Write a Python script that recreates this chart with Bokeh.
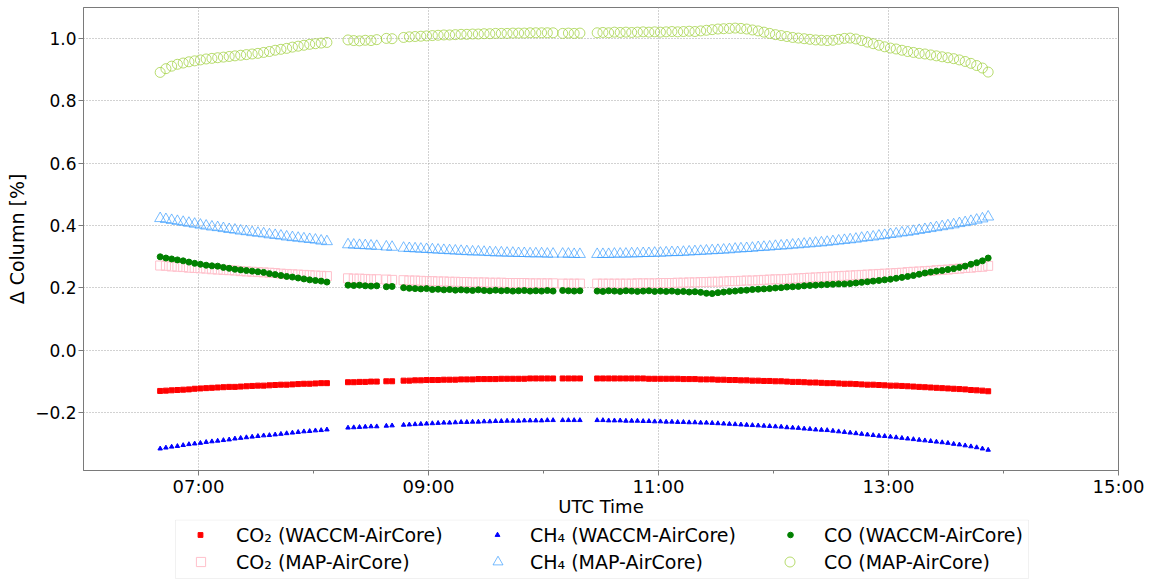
import pandas as pd
from bokeh.plotting import figure
from bokeh.layouts import column
from bokeh.models import (ColumnDataSource, FixedTicker, DatetimeTickFormatter,
                          CustomJSTickFormatter, Legend, LegendItem, Range1d,
                          BoxAnnotation)
from bokeh.embed import file_html
from bokeh.resources import INLINE

# ---------------- data ----------------
times = [
    "06:40","06:43","06:46","06:49","06:52","06:55","06:58","07:01","07:04","07:07",
    "07:10","07:13","07:16","07:19","07:22","07:25","07:28","07:31","07:34","07:37",
    "07:40","07:43","07:46","07:49","07:52","07:55","07:58","08:01","08:04","08:07",
    "08:18","08:21","08:24","08:27","08:30","08:33",
    "08:38","08:41",
    "08:47","08:50","08:53","08:56","08:59","09:02","09:05","09:08","09:11","09:14",
    "09:17","09:20","09:23","09:26","09:29","09:32","09:35","09:38","09:41","09:44",
    "09:47","09:50","09:53","09:56","09:59","10:02","10:05",
    "10:10","10:13","10:16","10:19",
    "10:28","10:31","10:34","10:37","10:40","10:43","10:46","10:49","10:52","10:55",
    "10:58","11:01","11:04","11:07","11:10","11:13","11:16","11:19","11:22","11:25",
    "11:28","11:31","11:34","11:37","11:40","11:43","11:46","11:49","11:52","11:55",
    "11:58","12:01","12:04","12:07","12:10","12:13","12:16","12:19","12:22","12:25",
    "12:28","12:31","12:34","12:37","12:40","12:43","12:46","12:49","12:52","12:55",
    "12:58","13:01","13:04","13:07","13:10","13:13","13:16","13:19","13:22","13:25",
    "13:28","13:31","13:34","13:37","13:40","13:43","13:46","13:49","13:52",
]

co2_waccm = [
    -0.130,-0.129,-0.128,-0.127,-0.126,-0.125,-0.123,-0.122,-0.121,-0.120,
    -0.119,-0.118,-0.117,-0.117,-0.116,-0.115,-0.114,-0.113,-0.113,-0.112,
    -0.111,-0.110,-0.110,-0.109,-0.108,-0.107,-0.107,-0.106,-0.105,-0.105,
    -0.102,-0.102,-0.101,-0.101,-0.100,-0.100,
    -0.099,-0.099,
    -0.097,-0.097,-0.096,-0.096,-0.095,-0.095,-0.095,-0.094,-0.094,-0.094,
    -0.093,-0.093,-0.093,-0.092,-0.092,-0.092,-0.092,-0.091,-0.091,-0.091,
    -0.091,-0.091,-0.090,-0.090,-0.090,-0.090,-0.090,
    -0.090,-0.090,-0.090,-0.090,
    -0.090,-0.090,-0.090,-0.090,-0.090,-0.090,-0.090,-0.090,-0.090,-0.091,
    -0.091,-0.091,-0.091,-0.091,-0.091,-0.092,-0.092,-0.092,-0.093,-0.093,
    -0.093,-0.094,-0.094,-0.095,-0.095,-0.096,-0.096,-0.097,-0.097,-0.098,
    -0.098,-0.099,-0.099,-0.100,-0.101,-0.101,-0.102,-0.103,-0.103,-0.104,
    -0.105,-0.105,-0.106,-0.107,-0.107,-0.108,-0.109,-0.110,-0.110,-0.111,
    -0.112,-0.113,-0.113,-0.114,-0.115,-0.116,-0.117,-0.118,-0.119,-0.120,
    -0.121,-0.122,-0.123,-0.124,-0.125,-0.127,-0.128,-0.129,-0.131,
]

co2_map = [
    0.272,0.271,0.269,0.268,0.267,0.265,0.264,0.263,0.262,0.260,
    0.259,0.258,0.257,0.256,0.254,0.253,0.252,0.251,0.250,0.249,
    0.248,0.246,0.245,0.244,0.243,0.242,0.241,0.240,0.239,0.238,
    0.231,0.230,0.230,0.229,0.228,0.228,
    0.227,0.226,
    0.225,0.224,0.224,0.223,0.222,0.222,0.221,0.221,0.220,0.220,
    0.219,0.219,0.218,0.218,0.218,0.217,0.217,0.217,0.216,0.216,
    0.216,0.216,0.215,0.215,0.215,0.215,0.215,
    0.214,0.214,0.214,0.214,
    0.214,0.214,0.214,0.214,0.214,0.214,0.214,0.215,0.215,0.215,
    0.215,0.216,0.216,0.216,0.217,0.217,0.218,0.218,0.219,0.219,
    0.220,0.220,0.221,0.222,0.222,0.223,0.224,0.224,0.225,0.226,
    0.227,0.228,0.228,0.229,0.230,0.231,0.232,0.233,0.234,0.235,
    0.236,0.237,0.238,0.239,0.240,0.241,0.242,0.243,0.244,0.245,
    0.246,0.247,0.248,0.249,0.251,0.252,0.253,0.254,0.255,0.257,
    0.258,0.259,0.261,0.262,0.264,0.265,0.267,0.268,0.271,
]

ch4_waccm = [
    -0.315,-0.312,-0.309,-0.307,-0.304,-0.301,-0.299,-0.297,-0.294,-0.292,
    -0.290,-0.288,-0.286,-0.283,-0.281,-0.279,-0.277,-0.275,-0.273,-0.272,
    -0.270,-0.268,-0.266,-0.264,-0.262,-0.260,-0.259,-0.257,-0.256,-0.254,
    -0.248,-0.247,-0.246,-0.245,-0.244,-0.244,
    -0.242,-0.241,
    -0.239,-0.238,-0.237,-0.236,-0.235,-0.234,-0.233,-0.232,-0.232,-0.231,
    -0.230,-0.230,-0.229,-0.229,-0.228,-0.228,-0.227,-0.227,-0.226,-0.226,
    -0.226,-0.225,-0.225,-0.225,-0.225,-0.224,-0.224,
    -0.224,-0.224,-0.224,-0.224,
    -0.224,-0.224,-0.225,-0.225,-0.225,-0.226,-0.226,-0.226,-0.227,-0.227,
    -0.228,-0.228,-0.229,-0.229,-0.230,-0.230,-0.231,-0.231,-0.232,-0.232,
    -0.233,-0.234,-0.235,-0.236,-0.237,-0.238,-0.239,-0.240,-0.241,-0.242,
    -0.243,-0.244,-0.245,-0.247,-0.248,-0.249,-0.251,-0.252,-0.254,-0.255,
    -0.256,-0.258,-0.260,-0.262,-0.264,-0.266,-0.268,-0.270,-0.272,-0.274,
    -0.275,-0.277,-0.279,-0.281,-0.283,-0.285,-0.287,-0.289,-0.291,-0.293,
    -0.295,-0.297,-0.300,-0.302,-0.305,-0.308,-0.311,-0.315,-0.319,
]

ch4_map = [
    0.423,0.420,0.417,0.414,0.411,0.408,0.405,0.402,0.399,0.396,
    0.394,0.391,0.388,0.386,0.383,0.381,0.378,0.376,0.374,0.371,
    0.369,0.367,0.364,0.362,0.360,0.358,0.356,0.354,0.351,0.349,
    0.339,0.338,0.337,0.336,0.335,0.334,
    0.332,0.331,
    0.328,0.327,0.326,0.325,0.324,0.323,0.322,0.321,0.320,0.319,
    0.318,0.317,0.316,0.316,0.315,0.314,0.313,0.313,0.312,0.312,
    0.311,0.311,0.310,0.310,0.310,0.309,0.309,
    0.309,0.309,0.308,0.308,
    0.308,0.308,0.308,0.309,0.309,0.309,0.310,0.310,0.311,0.311,
    0.312,0.312,0.313,0.314,0.314,0.315,0.316,0.317,0.318,0.319,
    0.320,0.321,0.322,0.323,0.325,0.326,0.327,0.328,0.330,0.331,
    0.332,0.334,0.335,0.336,0.338,0.339,0.341,0.342,0.344,0.345,
    0.347,0.349,0.351,0.353,0.355,0.357,0.360,0.362,0.364,0.367,
    0.369,0.372,0.374,0.377,0.379,0.382,0.385,0.388,0.391,0.394,
    0.397,0.400,0.403,0.407,0.410,0.414,0.418,0.422,0.428,
]

co_waccm = [
    0.300,0.296,0.293,0.290,0.287,0.283,0.279,0.276,0.273,0.271,
    0.270,0.266,0.263,0.260,0.258,0.256,0.254,0.252,0.250,0.246,
    0.243,0.240,0.237,0.235,0.232,0.229,0.226,0.224,0.222,0.219,
    0.209,0.208,0.209,0.207,0.206,0.207,
    0.204,0.205,
    0.201,0.199,0.198,0.197,0.198,0.195,0.196,0.194,0.195,0.193,
    0.194,0.193,0.192,0.194,0.192,0.191,0.193,0.191,0.192,0.190,
    0.191,0.192,0.190,0.191,0.190,0.192,0.190,
    0.192,0.191,0.190,0.191,
    0.190,0.189,0.191,0.190,0.189,0.191,0.190,0.189,0.190,0.191,
    0.189,0.190,0.189,0.190,0.188,0.189,0.187,0.188,0.186,0.183,
    0.182,0.185,0.187,0.189,0.190,0.192,0.193,0.195,0.196,0.197,
    0.198,0.200,0.201,0.203,0.204,0.205,0.207,0.208,0.209,0.210,
    0.211,0.212,0.213,0.213,0.214,0.216,0.218,0.220,0.222,0.224,
    0.226,0.228,0.231,0.234,0.237,0.240,0.244,0.248,0.251,0.254,
    0.256,0.259,0.262,0.266,0.270,0.276,0.281,0.287,0.296,
]

co_map = [
    0.891,0.903,0.911,0.917,0.921,0.925,0.928,0.931,0.934,0.936,
    0.938,0.940,0.942,0.944,0.946,0.948,0.950,0.952,0.955,0.958,
    0.962,0.965,0.968,0.972,0.975,0.978,0.981,0.983,0.985,0.987,
    0.995,0.993,0.992,0.994,0.993,0.996,
    1.000,0.999,
    1.003,1.005,1.006,1.007,1.008,1.009,1.010,1.011,1.011,1.012,
    1.013,1.013,1.014,1.014,1.015,1.015,1.016,1.016,1.016,1.017,
    1.017,1.017,1.018,1.018,1.018,1.018,1.018,
    1.016,1.017,1.016,1.017,
    1.018,1.019,1.018,1.020,1.019,1.020,1.019,1.020,1.021,1.020,
    1.021,1.020,1.021,1.022,1.021,1.022,1.023,1.022,1.024,1.026,
    1.028,1.030,1.031,1.032,1.033,1.032,1.030,1.027,1.024,1.020,
    1.016,1.012,1.009,1.006,1.003,1.001,0.999,0.997,0.995,0.994,
    0.993,0.994,0.997,1.000,1.001,0.998,0.993,0.988,0.983,0.978,
    0.973,0.969,0.966,0.962,0.958,0.955,0.952,0.950,0.947,0.944,
    0.941,0.938,0.935,0.931,0.926,0.920,0.913,0.905,0.892,
]

x_tick_labels = ["07:00", "09:00", "11:00", "13:00", "15:00"]
x_minor_labels = ["08:00", "10:00", "12:00", "14:00"]
x_limits = ["06:00", "15:00"]
y_ticks = [-0.2, 0.0, 0.2, 0.4, 0.6, 0.8, 1.0]
y_limits = [-0.385, 1.099]

labels = {
    "co2_waccm": "CO\u2082 (WACCM-AirCore)",
    "co2_map": "CO\u2082 (MAP-AirCore)",
    "ch4_waccm": "CH\u2084 (WACCM-AirCore)",
    "ch4_map": "CH\u2084 (MAP-AirCore)",
    "co_waccm": "CO (WACCM-AirCore)",
    "co_map": "CO (MAP-AirCore)",
}

# ---------------- styles ----------------
styles = {
    "co2_waccm": dict(marker="square", size=5, fill_color="#ff0000", line_color="#ff0000"),
    "co2_map": dict(marker="square", size=9, fill_color=None, line_color="#ffc0cb", line_width=1),
    "ch4_waccm": dict(marker="triangle", size=4.5, fill_color="#0000ff", line_color="#0000ff"),
    "ch4_map": dict(marker="triangle", size=11, fill_color=None, line_color="#1e90ff",
                    line_alpha=0.6, line_width=1),
    "co_waccm": dict(marker="circle", size=6, fill_color="#008000", line_color="#008000"),
    "co_map": dict(marker="circle", size=10, fill_color=None, line_color="#9acd32",
                   line_alpha=0.7, line_width=1),
}
order = ["co2_waccm", "co2_map", "ch4_waccm", "ch4_map", "co_waccm", "co_map"]

# ---------------- build ----------------
def to_dt(t):
    return pd.Timestamp("2000-01-01 " + t)

def to_ms(t):
    return to_dt(t).value // 10**6

series = dict(co2_waccm=co2_waccm, co2_map=co2_map, ch4_waccm=ch4_waccm,
              ch4_map=ch4_map, co_waccm=co_waccm, co_map=co_map)
n = min([len(times)] + [len(v) for v in series.values()])
data = {"t": [to_dt(t) for t in times[:n]]}
for k, v in series.items():
    data[k] = v[:n]
src = ColumnDataSource(data)

FONT = "DejaVu Sans"
GREY = "#7a7a7a"
FRAME_L, FRAME_R = 83, 36
p = figure(width=1154, height=519, x_axis_type="datetime",
           x_range=Range1d(to_dt(x_limits[0]), to_dt(x_limits[1])),
           y_range=Range1d(y_limits[0], y_limits[1]),
           output_backend="svg", toolbar_location=None,
           min_border_left=FRAME_L, min_border_right=FRAME_R, min_border_top=7,
           min_border_bottom=49)
p.background_fill_color = "white"
p.border_fill_color = "white"
p.outline_line_color = GREY
p.outline_line_width = 1

for k in order:
    p.scatter("t", k, source=src, **styles[k])

p.xaxis.ticker = FixedTicker(ticks=[to_ms(t) for t in x_tick_labels],
                             minor_ticks=[to_ms(t) for t in x_minor_labels])
p.xaxis.formatter = DatetimeTickFormatter(
    microseconds="%H:%M", milliseconds="%H:%M", seconds="%H:%M", minsec="%H:%M",
    minutes="%H:%M", hourmin="%H:%M", hours="%H:%M", days="%H:%M",
    months="%H:%M", years="%H:%M")
p.yaxis.ticker = FixedTicker(ticks=y_ticks, minor_ticks=[])
p.yaxis.formatter = CustomJSTickFormatter(
    code="return tick.toFixed(1).replace('-', '\\u2212');")

p.xaxis.axis_label = "UTC Time"
p.yaxis.axis_label = "\u0394 Column [%]"
for ax in (p.xaxis, p.yaxis):
    ax.major_label_text_font = FONT
    ax.major_label_text_color = "black"
    ax.axis_label_text_font = FONT
    ax.axis_label_text_font_style = "normal"
    ax.axis_label_text_color = "black"
    ax.axis_line_color = GREY
    ax.major_tick_line_color = GREY
    ax.minor_tick_line_color = GREY
    ax.major_tick_out = 5
    ax.major_tick_in = 0
    ax.minor_tick_out = 3
    ax.minor_tick_in = 0
p.xaxis.major_label_text_font_size = "18px"
p.xaxis.axis_label_text_font_size = "18px"
p.yaxis.major_label_text_font_size = "17px"
p.yaxis.axis_label_text_font_size = "19px"
p.xaxis.major_label_standoff = 0
p.xaxis.axis_label_standoff = -4
p.yaxis.major_label_standoff = 2
p.yaxis.axis_label_standoff = 4

for g in (p.xgrid, p.ygrid):
    g.grid_line_color = "#a5a5a5"
    g.grid_line_dash = "1 2"
    g.grid_line_width = 1

# ---------------- legend strip under the plot ----------------
LG_H = 61
lg = figure(width=1154, height=LG_H, x_range=Range1d(0, 1), y_range=Range1d(0, 1),
            output_backend="svg", toolbar_location=None,
            x_axis_location=None, y_axis_location=None,
            min_border_left=FRAME_L, min_border_right=FRAME_R,
            min_border_top=0, min_border_bottom=0)
lg.outline_line_color = None
lg.xgrid.visible = False
lg.ygrid.visible = False
lg.background_fill_color = "white"
lg.border_fill_color = "white"

lg.add_layout(BoxAnnotation(left=175 - FRAME_L, right=1028 - FRAME_L,
                            bottom=2, top=LG_H - 0.5,
                            left_units="screen", right_units="screen",
                            bottom_units="screen", top_units="screen",
                            fill_color="white", fill_alpha=1,
                            line_color="#d0d0d0", line_width=1))

# (series key, marker centre x, text start x, row) ; legend sample box width sets marker size
legend_slots = [("co2_waccm", 200, 236, 0), ("co2_map", 200, 236, 1),
                ("ch4_waccm", 497, 530, 0), ("ch4_map", 497, 530, 1),
                ("co_waccm", 790, 824, 0), ("co_map", 790, 824, 1)]
glyph_box = {"co2_waccm": 12, "ch4_waccm": 12, "co_waccm": 14,
             "co2_map": 23, "ch4_map": 25, "co_map": 25}
ROW_H = 27
for k, cx, tx, row in legend_slots:
    gw = glyph_box[k]
    # sample glyph: same data, but outside this strip's (0..1) ranges
    r = lg.scatter("t", k, source=src, **styles[k])
    left = cx - gw / 2.0
    y_loc = LG_H - 2 - ROW_H * (row + 1)
    leg = Legend(items=[LegendItem(label=labels[k], renderers=[r])],
                 orientation="vertical",
                 location=(int(round(left - FRAME_L)), int(y_loc)))
    leg.label_text_font = FONT
    leg.label_text_font_size = "19px"
    leg.label_text_color = "black"
    leg.glyph_width = gw
    leg.glyph_height = ROW_H
    leg.label_height = ROW_H
    leg.label_standoff = int(round(tx - (left + gw)))
    leg.spacing = 0
    leg.padding = 0
    leg.margin = 0
    leg.border_line_color = None
    leg.background_fill_alpha = 0
    lg.add_layout(leg, "center")

layout = column(p, lg, spacing=0)
open("out.html", "w").write(file_html(layout, INLINE))
